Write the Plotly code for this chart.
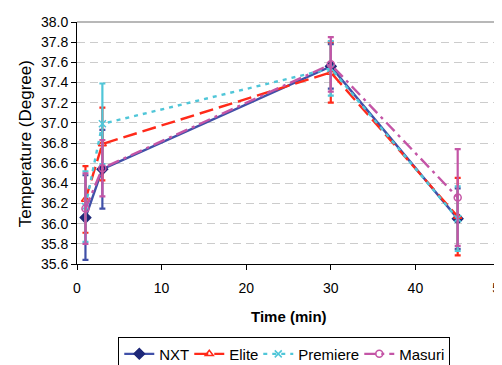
import plotly.graph_objects as go

time_min = [1, 3, 30, 45]
nxt = [36.06, 36.54, 37.56, 36.05]
elite = [36.24, 36.79, 37.50, 36.07]
premiere = [36.17, 36.99, 37.54, 36.05]
masuri = [36.15, 36.55, 37.58, 36.26]

nxt_err = [0.42, 0.39, 0.22, 0.30]
elite_err = [0.33, 0.36, 0.30, 0.385]
premiere_err = [0.35, 0.40, 0.27, 0.32]
masuri_err = [0.35, 0.28, 0.27, 0.48]

y_ticks = [35.6 + 0.2 * i for i in range(13)]
x_ticks = [0, 10, 20, 30, 40, 50]

series = [
    ("NXT", nxt, nxt_err, "#4050A8", "solid", "diamond", "#1E2878", 8, 25),
    ("Elite", elite, elite_err, "#FF2A1A", "14px,6px", "triangle-up-open", "#FF2A1A", 7, 24),
    ("Premiere", premiere, premiere_err, "#50C6D8", "4px,5px", "x-thin-open", "#50C6D8", 7, 56),
    ("Masuri", masuri, masuri_err, "#C455A6", "12px,5px,3px,5px", "circle-open", "#C455A6", 7, 45),
]

fig = go.Figure()
for name, vals, errs, color, dash, sym, mcol, msize, lw in series:
    fig.add_trace(go.Scatter(
        x=time_min, y=vals, name=name, mode="lines+markers",
        line=dict(color=color, width=2.4, dash=dash),
        marker=dict(symbol=sym, size=msize, color=mcol, line=dict(color=mcol, width=1.5)),
        error_y=dict(type="data", array=errs, visible=True, color=color, thickness=2.2, width=3),
        legendwidth=lw,
    ))

fig.update_layout(
    width=502, height=365,
    margin=dict(l=69, r=2, t=14, b=102),
    paper_bgcolor="white", plot_bgcolor="white",
    font=dict(family="Liberation Sans, Arial, sans-serif", size=14, color="black"),
    showlegend=True,
    legend=dict(orientation="h", x=0.49, xanchor="center", y=-0.30, yanchor="top",
                bordercolor="black", borderwidth=1, font=dict(size=15),
                itemwidth=30, tracegroupgap=0),
)
fig.update_xaxes(range=[0, 50], tickvals=x_ticks, showline=True, linecolor="black",
                 linewidth=1, ticks="outside", ticklen=5, tickcolor="black",
                 ticklabelstandoff=6, ticklabeloverflow="allow",
                 showgrid=False, zeroline=False, tickfont=dict(size=14))
fig.update_yaxes(range=[35.6, 38.0], tickvals=y_ticks, tickformat=".1f", showline=True,
                 linecolor="black", linewidth=1, ticks="outside", ticklen=5, tickcolor="black",
                 showgrid=True, gridcolor="#CCCCCC", griddash="8px,5px", gridwidth=1,
                 zeroline=False, tickfont=dict(size=14))
fig.add_shape(type="line", xref="paper", yref="paper", x0=0, x1=1, y0=1, y1=1,
              line=dict(color="#A0A0A0", width=1.5))
fig.add_annotation(text="Temperature (Degree)", xref="paper", yref="paper",
                   x=-0.121, y=0.498, textangle=-90, showarrow=False,
                   font=dict(size=17), xanchor="center", yanchor="middle")
fig.add_annotation(text="<b>Time (min)</b>", xref="paper", yref="paper",
                   x=0.5, y=-0.217, showarrow=False, font=dict(size=15),
                   xanchor="center", yanchor="middle")

fig.write_html("out.html")
